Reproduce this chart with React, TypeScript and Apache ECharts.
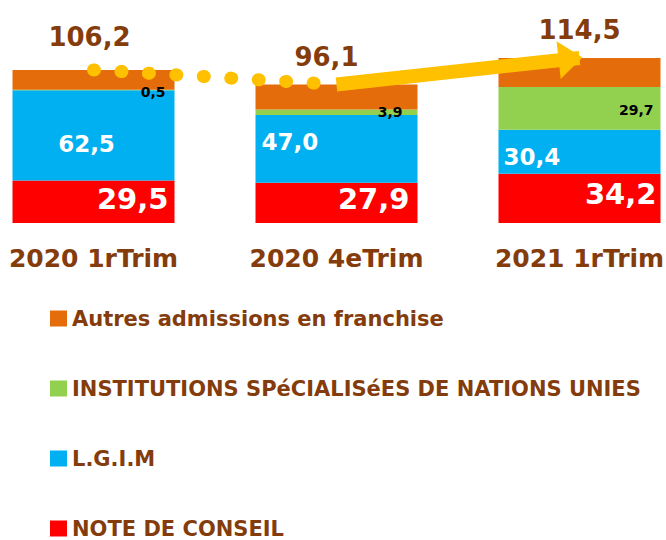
import React, { useEffect, useRef } from "react";
import * as echarts from "echarts";

const categories = ["2020 1rTrim", "2020 4eTrim", "2021 1rTrim"];
const seriesNames = [
  "NOTE DE CONSEIL",
  "L.G.I.M",
  "INSTITUTIONS SPéCIALISéES DE NATIONS UNIES",
  "Autres admissions en franchise",
];
const noteConseil = [29.5, 27.9, 34.2];
const lgim = [62.5, 47.0, 30.4];
const institutions = [0.5, 3.9, 29.7];
const autres = [13.7, 17.3, 20.2];
const totals = [106.2, 96.1, 114.5];

const BROWN = "#843C0C";
const COLORS = ["#FF0000", "#00B0F0", "#92D050", "#E46C0A"];
const TOP_FONT = "'DejaVu Sans', sans-serif";

const fmt = (v: number) => v.toFixed(1).replace(".", ",");

export default function App() {
  const ref = useRef<HTMLDivElement>(null);

  useEffect(() => {
    if (!ref.current) return;
    const chart = echarts.init(ref.current, null, { renderer: "svg" });

    const redData = noteConseil.map((v, i) => ({
      value: v,
      label: { offset: [[0, -3], [-2, -4], [2, -4]][i] },
    }));
    const blueLabelCfg = [
      { position: "inside", offset: [-7, 9] },
      { position: "insideLeft", distance: 6, offset: [0, -7] },
      { position: "insideLeft", distance: 5, offset: [0, 5] },
    ];
    const blueData = lgim.map((v, i) => ({ value: v, label: blueLabelCfg[i] }));
    const greenLabelCfg = [
      { distance: 9, offset: [0, 2] },
      { distance: 15, offset: [0, 0] },
      { distance: 7, offset: [0, 2] },
    ];
    const greenData = institutions.map((v, i) => ({ value: v, label: greenLabelCfg[i] }));
    const totalOffsets = [[-4, -15], [-10, -9], [0, -10]];
    const orangeData = autres.map((v, i) => ({
      value: v,
      label: { offset: totalOffsets[i] },
    }));

    const option: any = {
      animation: false,
      grid: { left: -28, top: 50, width: 729, height: 173, outerBoundsMode: "none", containLabel: false },
      xAxis: {
        type: "category",
        data: categories,
        axisLine: { show: false },
        axisTick: { show: false },
        axisLabel: {
          margin: 23,
          fontSize: 25,
          fontWeight: "bold",
          color: BROWN,
          fontFamily: TOP_FONT,
        },
      },
      yAxis: { type: "value", min: 0, max: 120, show: false, splitLine: { show: false } },
      legend: {
        orient: "vertical",
        left: 50,
        top: 308,
        height: 260,
        padding: 0,
        itemGap: 49,
        itemWidth: 17,
        itemHeight: 16,
        icon: "rect",
        data: [seriesNames[3], seriesNames[2], seriesNames[1], seriesNames[0]],
        textStyle: {
          color: BROWN,
          fontSize: 21,
          lineHeight: 21,
          fontFamily: TOP_FONT,
          fontWeight: "bold",
        },
      },
      series: [
        {
          name: seriesNames[0],
          type: "bar",
          stack: "s",
          barWidth: 162,
          itemStyle: { color: COLORS[0] },
          label: {
            show: true,
            position: "insideRight",
            distance: 6,
            color: "#fff",
            fontSize: 29,
            fontWeight: "bold",
            fontFamily: TOP_FONT,
            formatter: (p: any) => fmt(p.value),
          },
          data: redData,
        },
        {
          name: seriesNames[1],
          type: "bar",
          stack: "s",
          barWidth: 162,
          itemStyle: { color: COLORS[1] },
          label: {
            show: true,
            color: "#fff",
            fontSize: 23,
            fontWeight: "bold",
            fontFamily: TOP_FONT,
            formatter: (p: any) => fmt(p.value),
          },
          data: blueData,
        },
        {
          name: seriesNames[2],
          type: "bar",
          stack: "s",
          barWidth: 162,
          itemStyle: { color: COLORS[2] },
          label: {
            show: true,
            position: "insideRight",
            color: "#000",
            fontSize: 14,
            fontWeight: "bold",
            fontFamily: TOP_FONT,
            formatter: (p: any) => fmt(p.value),
          },
          data: greenData,
        },
        {
          name: seriesNames[3],
          type: "bar",
          stack: "s",
          barWidth: 162,
          itemStyle: { color: COLORS[3] },
          label: {
            show: true,
            position: "top",
            color: BROWN,
            fontSize: 26,
            fontWeight: "bold",
            fontFamily: TOP_FONT,
            formatter: (p: any) => fmt(totals[p.dataIndex]),
          },
          data: orangeData,
          markLine: {
            silent: true,
            animation: false,
            label: { show: false },
            emphasis: { disabled: true },
            data: [
              [
                {
                  coord: [categories[0], totals[0]],
                  symbol: "none",
                  lineStyle: { color: "#FFC000", width: 13, type: [1, 26.5], cap: "round" },
                },
                { coord: [categories[1], totals[1]], symbol: "none" },
              ],
              [
                {
                  coord: [categories[1], totals[1]],
                  symbol: "none",
                  lineStyle: { color: "#FFC000", width: 14, type: "solid" },
                },
                {
                  coord: [categories[2], totals[2]],
                  symbol: "triangle",
                  symbolSize: [38, 24],
                  symbolOffset: [0, 9],
                },
              ],
            ],
          },
        },
      ],
    };

    chart.setOption(option);
    return () => chart.dispose();
  }, []);

  return (
    <div
      ref={ref}
      style={{ position: "fixed", left: 0, top: 0, width: 666, height: 540, background: "#fff" }}
    />
  );
}
